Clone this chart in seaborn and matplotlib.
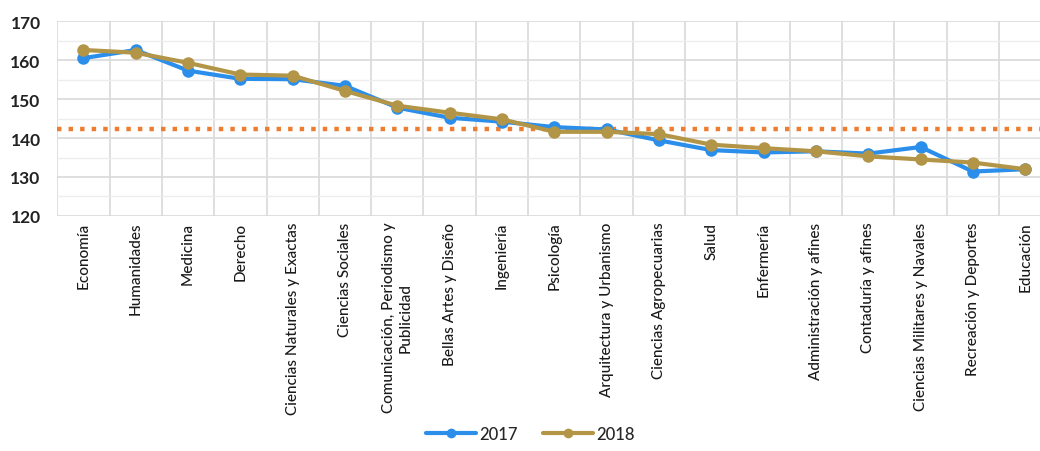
import pandas as pd
import matplotlib.pyplot as plt
import seaborn as sns
from matplotlib.ticker import MultipleLocator, FixedLocator

carreras = ['Economía', 'Humanidades', 'Medicina', 'Derecho',
            'Ciencias Naturales y Exactas', 'Ciencias Sociales',
            'Comunicación, Periodismo y\nPublicidad', 'Bellas Artes y Diseño',
            'Ingeniería', 'Psicología', 'Arquitectura y Urbanismo',
            'Ciencias Agropecuarias', 'Salud', 'Enfermería',
            'Administración y afines', 'Contaduría y afines',
            'Ciencias Militares y Navales', 'Recreación y Deportes', 'Educación']
puntaje_2017 = [160.5, 162.6, 157.3, 155.2, 155.1, 153.4, 147.8, 145.2, 144.2,
                142.8, 142.2, 139.4, 136.9, 136.3, 136.6, 136.0, 137.7, 131.4, 132.0]
puntaje_2018 = [162.6, 161.9, 159.3, 156.3, 156.0, 152.1, 148.3, 146.5, 144.8,
                141.6, 141.6, 141.0, 138.3, 137.4, 136.6, 135.3, 134.5, 133.7, 132.0]
promedio = 142.4

df = pd.DataFrame({
    'carrera': list(range(len(carreras))) * 2,
    'puntaje': puntaje_2017 + puntaje_2018,
    'anio': ['2017'] * len(carreras) + ['2018'] * len(carreras),
})

sns.set_style('white')
plt.rcParams['font.family'] = ['Lato', 'DejaVu Sans']

fig = plt.figure(figsize=(10.4, 4.52), dpi=100)
ax = fig.add_axes([0.055, 0.52, 0.956, 0.431])

ax.axhline(promedio, color='#ED7D31', lw=3.2, ls=(0, (1, 1.6)), zorder=1)

sns.lineplot(data=df, x='carrera', y='puntaje', hue='anio',
             palette={'2017': '#2A8EEA', '2018': '#B39547'},
             marker='o', markersize=9, markeredgewidth=0, linewidth=3,
             ax=ax, legend=True, zorder=3)

ax.set_xlim(-0.5, len(carreras) - 0.5)
ax.set_ylim(120, 170)
ax.set_xlabel('')
ax.set_ylabel('')

ax.set_xticks(range(len(carreras)))
ax.set_xticklabels(carreras, rotation=90, fontsize=11, color='#1A1A1A',
                   fontweight='medium', va='top', ha='center',
                   multialignment='center')
ax.xaxis.set_minor_locator(FixedLocator([i + 0.5 for i in range(-1, len(carreras))]))
ax.yaxis.set_major_locator(MultipleLocator(10))
ax.yaxis.set_minor_locator(MultipleLocator(5))
for lab in ax.get_yticklabels():
    lab.set_fontsize(12.5)
    lab.set_fontweight('bold')
    lab.set_color('#222222')

ax.tick_params(axis='x', which='both', length=0, pad=4)
ax.tick_params(axis='y', which='both', length=0, pad=12)
ax.grid(True, which='major', axis='y', color='#D9D9D9', lw=1.2)
ax.grid(True, which='minor', axis='y', color='#EDEDED', lw=1)
ax.grid(True, which='minor', axis='x', color='#D9D9D9', lw=1.2)
ax.grid(False, which='major', axis='x')
for s in ax.spines.values():
    s.set_visible(False)

handles, labels = ax.get_legend_handles_labels()
for h in handles:
    h.set_markersize(7)
ax.get_legend().remove()
fig.legend(handles, labels, loc='lower center', bbox_to_anchor=(0.51, -0.014),
           ncol=2, frameon=False,
           prop={'weight': 'medium', 'size': 12}, handlelength=3,
           columnspacing=1.5, handletextpad=0.2)

plt.savefig('out.png', dpi=100)
